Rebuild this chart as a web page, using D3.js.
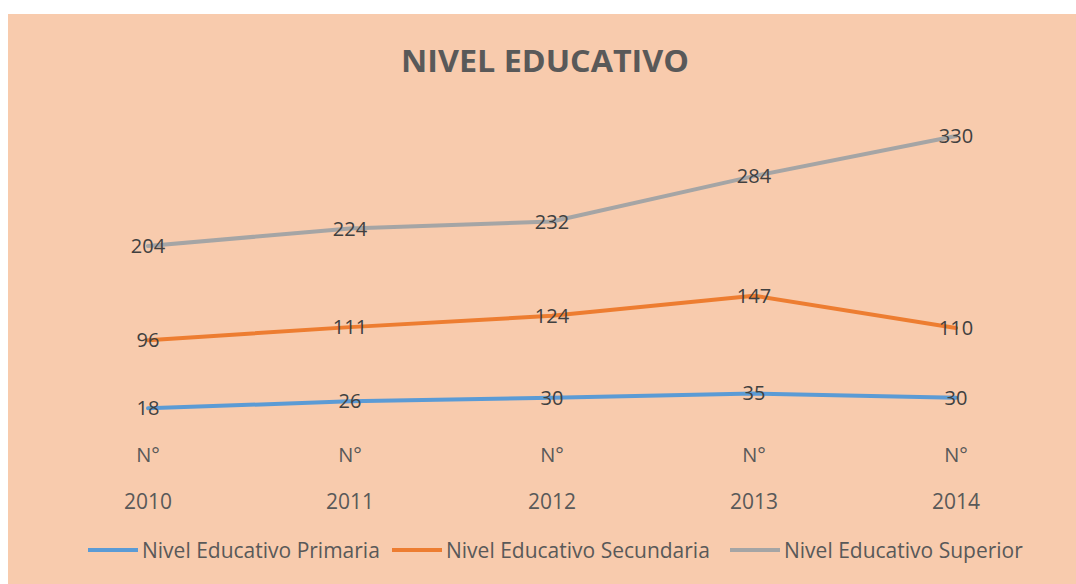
<!DOCTYPE html>
<html>
<head>
<meta charset="utf-8">
<script src="https://cdn.jsdelivr.net/npm/d3@7"></script>
<style>
  html, body { margin: 0; padding: 0; background: #ffffff; }
  svg { display: block; }
  text { font-family: "Open Sans", "Lato", sans-serif; }
</style>
</head>
<body>
<svg id="chart" width="1076" height="584"></svg>
<script>
const years = ["2010", "2011", "2012", "2013", "2014"];
const categoryPrefix = ["N°", "N°", "N°", "N°", "N°"];
const seriesNames = ["Nivel Educativo Primaria", "Nivel Educativo Secundaria", "Nivel Educativo Superior"];
const primaria = [18, 26, 30, 35, 30];
const secundaria = [96, 111, 124, 147, 110];
const superior = [204, 224, 232, 284, 330];
const colors = ["#5B9BD5", "#ED7D31", "#A5A5A5"];

const svg = d3.select("#chart");
const W = 1076, H = 584;

// chart background
svg.append("rect").attr("x", 8).attr("y", 14).attr("width", W - 8).attr("height", H - 14)
  .attr("fill", "#F8CBAD");

svg.append("text").attr("x", 545).attr("y", 72).attr("text-anchor", "middle")
  .attr("font-size", 30).attr("font-weight", 700).attr("fill", "#595959")
  .attr("textLength", 288).attr("lengthAdjust", "spacingAndGlyphs")
  .text("NIVEL EDUCATIVO");

const x = d3.scalePoint().domain(years).range([148, 956]);
const y = d3.scaleLinear().domain([0, 330]).range([424, 136]);

const series = [primaria, secundaria, superior];

const line = d3.line().x((d, i) => x(years[i])).y(d => y(d));

series.forEach((vals, s) => {
  svg.append("path").datum(vals).attr("d", line)
    .attr("fill", "none").attr("stroke", colors[s]).attr("stroke-width", 4)
    .attr("stroke-linejoin", "round").attr("stroke-linecap", "round");
});

series.forEach((vals, s) => {
  svg.selectAll(null).data(vals).enter().append("text")
    .attr("x", (d, i) => x(years[i]))
    .attr("y", d => y(d) + 7)
    .attr("text-anchor", "middle").attr("font-size", 20).attr("fill", "#404040")
    .text(d => d);
});

// category axis (two-line labels)
const axisG = svg.append("g");
years.forEach((yr, i) => {
  axisG.append("text").attr("x", x(yr)).attr("y", 462).attr("text-anchor", "middle")
    .attr("font-size", 20).attr("fill", "#595959").text(categoryPrefix[i]);
  axisG.append("text").attr("x", x(yr)).attr("y", 509).attr("text-anchor", "middle")
    .attr("font-size", 21).attr("fill", "#595959").text(yr);
});

// legend
const legendX = [88, 392, 730];
seriesNames.forEach((name, s) => {
  const g = svg.append("g").attr("transform", `translate(${legendX[s]},550)`);
  g.append("line").attr("x1", 0).attr("x2", 50).attr("y1", 0).attr("y2", 0)
    .attr("stroke", colors[s]).attr("stroke-width", 4);
  g.append("text").attr("x", 54).attr("y", 7.5).attr("font-size", 21)
    .attr("fill", "#595959").text(name);
});
</script>
</body>
</html>
